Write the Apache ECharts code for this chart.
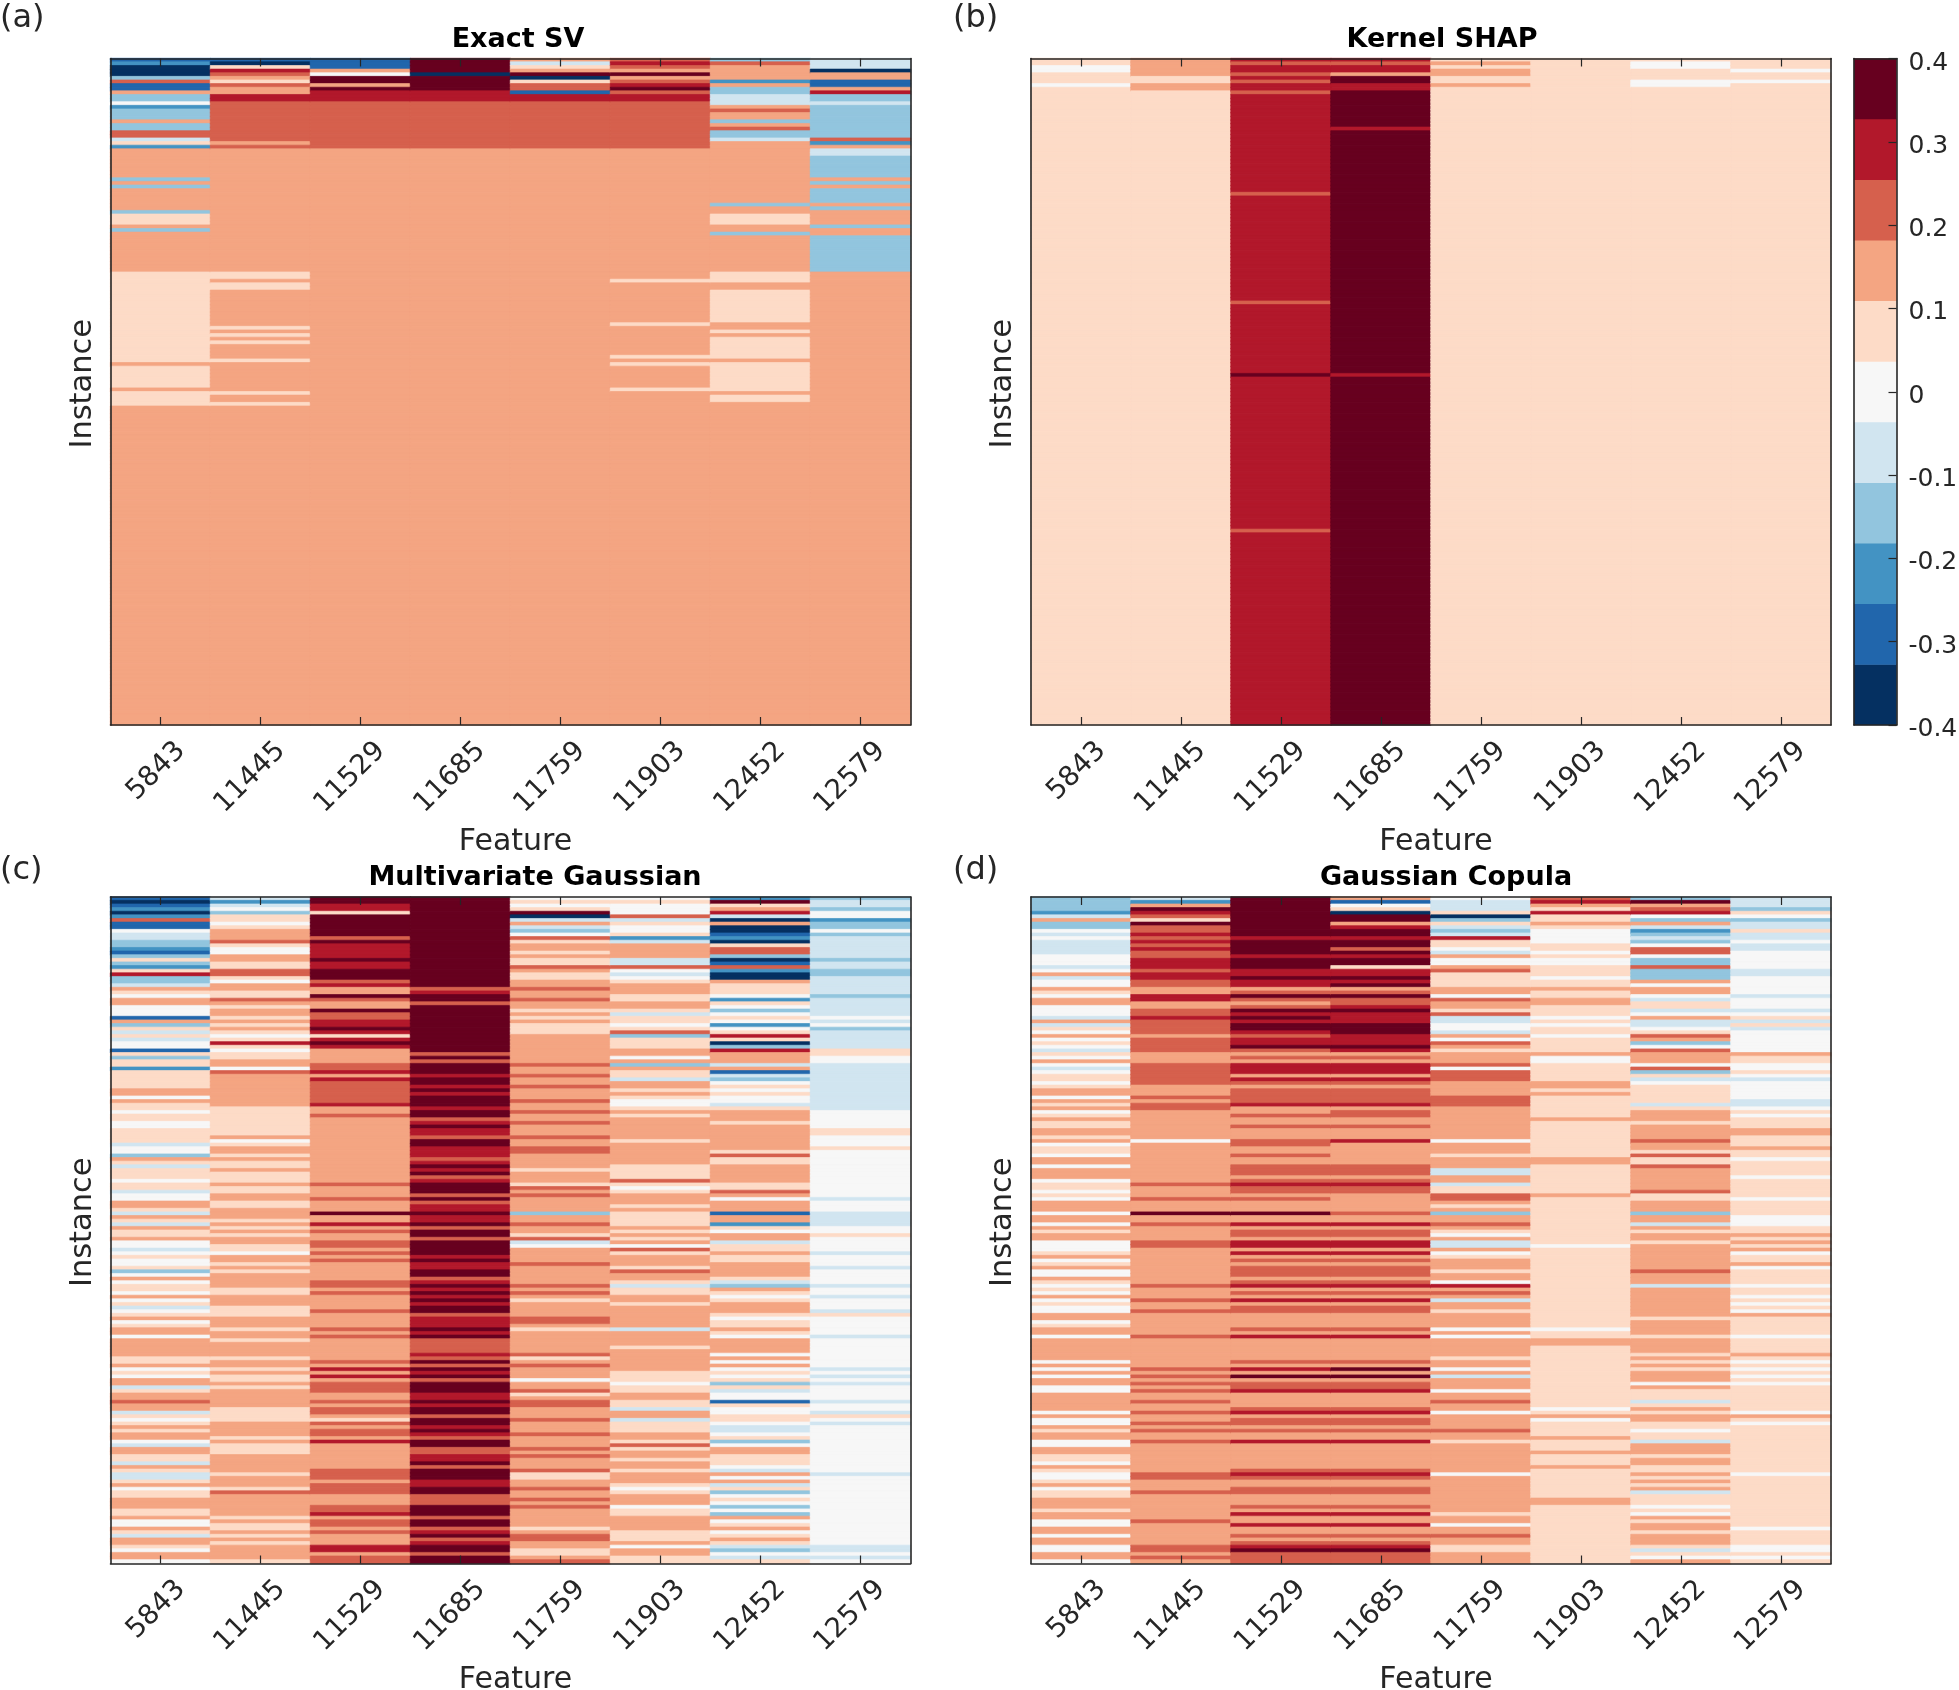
<!DOCTYPE html>
<html>
<head>
<meta charset="utf-8">
<style>html,body{margin:0;padding:0;background:#fff}#c{width:1959px;height:1690px}</style>
<script src="https://cdn.jsdelivr.net/npm/echarts@6/dist/echarts.min.js"></script>
</head>
<body>
<div id="c"></div>
<script>
// Value of each of the 11 colour bands (0 navy ... 5 white ... 10 dark red)
const levelValues = [-0.36,-0.29,-0.22,-0.145,-0.07,0,0.07,0.145,0.22,0.29,0.36];
const bandColors = ['#053061','#2166ac','#4393c3','#92c5de','#d1e5f0','#f7f7f7','#fddbc7','#f4a582','#d6604d','#b2182b','#67001f'];
const features = ['5843','11445','11529','11685','11759','11903','12452','12579'];
const colorbarTicks = [-0.4,-0.3,-0.2,-0.1,0,0.1,0.2,0.3,0.4];
const rowCount = 184;
// Every column below: flat (band, rows) pairs read from top to bottom; the last band runs to the bottom.

// (a) Exact SV
const sv5843 = [1,1,2,1,0,3,3,1,8,1,1,2,7,1,3,2,5,1,2,1,3,3,7,1,3,2,8,2,4,1,6,1,2,1,7,8,3,1,7,1,3,1,7,6,3,1,6,3,7,1,3,1,7,11,6,25,7,1,6,6,7,1,6,4,7,1];
const sv11445 = [1,1,0,1,6,1,9,1,8,1,7,1,6,1,8,1,7,2,9,2,8,11,7,1,8,1,7,34,6,2,7,1,6,2,7,10,6,1,7,1,6,1,7,1,6,1,7,4,6,1,7,8,6,1,7,2,6,1,7,1];
const sv11529 = [1,3,7,1,5,1,10,2,7,1,10,1,9,3,8,13,7,1];
const sv11685 = [10,4,0,1,10,4,9,3,8,13,7,1];
const sv11759 = [7,1,4,1,6,1,7,1,10,1,0,1,6,1,8,2,1,1,9,2,8,13,7,1];
const sv11903 = [8,1,9,1,8,1,7,1,10,1,7,1,8,1,9,1,10,1,8,1,9,2,8,13,7,36,6,1,7,11,6,1,7,8,6,1,7,1,6,1,7,6,6,1,7,1];
const sv12452 = [3,1,8,1,7,4,2,1,7,1,3,2,4,3,7,1,8,1,7,2,3,1,7,1,8,1,3,2,4,1,7,17,3,1,7,2,6,3,7,2,3,1,7,10,6,3,7,2,6,9,7,2,6,1,7,1,6,6,7,1,6,8,7,1,6,2,7,1];
const sv12579 = [4,3,0,1,7,2,1,2,7,1,9,1,3,2,4,1,3,9,8,1,2,1,7,1,4,2,3,6,7,1,3,1,7,1,3,4,7,1,3,1,7,4,3,1,7,2,3,10,7,1];

// (b) Kernel SHAP
const ks5843 = [6,2,5,2,6,3,5,1,6,1];
const ks11445 = [7,5,6,2,7,2,6,1];
const ks11529 = [9,1,8,1,9,2,8,1,9,1,8,1,9,2,8,1,9,27,8,1,9,29,8,1,9,19,10,1,9,42,8,1,9,1];
const ks11685 = [9,1,8,1,9,2,7,1,10,2,9,2,10,10,9,1,10,67,9,1,10,1];
const ks11759 = [6,1,7,1,6,1,7,2,6,2,7,1,6,1];
const ks11903 = [6,1];
const ks12452 = [6,1,5,2,6,3,5,2,6,1];
const ks12579 = [6,3,5,1,6,2,5,1,6,1];

// (c) Multivariate Gaussian
const mg5843 = [1,1,0,1,1,1,2,1,0,1,2,1,8,1,1,2,5,1,4,2,3,2,2,1,1,1,3,1,6,1,3,1,2,1,6,1,9,1,3,2,4,1,7,1,6,1,5,1,7,2,5,3,1,1,7,1,3,1,6,1,4,1,6,1,4,1,5,2,1,1,6,1,3,1,6,2,2,1,6,5,7,2,5,1,7,1,6,2,
  5,1,6,2,5,2,6,4,4,1,5,2,3,1,7,1,6,1,4,1,6,3,5,1,6,2,4,1,5,2,7,2,6,1,4,1,7,1,6,1,4,1,7,1,6,2,7,1,5,2,4,1,5,1,6,1,5,2,6,1,3,1,5,1,7,1,5,1,6,2,5,1,7,1,5,1,6,1,4,1,5,1,6,1,7,1,5,1,6,1,7,1,
  7,1,5,1,7,5,6,2,7,1,5,1,6,1,5,1,7,2,4,1,6,1,7,2,8,1,7,2,4,1,6,1,5,1,6,1,7,1,6,1,7,2,5,1,4,1,7,2,6,2,4,1,7,1,6,1,4,2,6,1,7,1,5,1,6,2,7,3,6,2,7,1,5,2,7,1,6,1,4,1,7,2,6,1,5,1,7,2,5,1];
const mg11445 = [4,1,2,1,4,1,5,1,3,1,6,2,5,1,6,1,7,3,8,1,6,1,5,2,7,2,6,2,8,2,6,1,5,1,7,2,6,2,8,1,7,1,6,1,7,2,6,1,7,1,6,1,7,1,6,1,5,1,6,1,9,1,6,1,5,1,6,2,7,2,5,1,8,1,7,9,6,1,
  6,7,7,1,5,1,6,1,7,2,6,1,7,1,6,2,7,1,6,3,7,1,6,2,7,2,6,2,7,3,6,1,7,1,6,1,7,1,6,1,7,2,6,2,5,1,7,2,6,1,7,1,6,1,7,4,6,2,7,3,6,3,7,3,6,1,
  7,2,6,1,7,4,6,1,7,2,6,1,7,1,6,2,7,1,6,1,7,5,6,4,7,4,6,1,7,1,6,3,7,5,6,1,7,3,6,1,8,1,7,6,6,1,7,1,6,2,7,1,6,1,7,1,6,1,7,4,6,1];
const mg11529 = [10,2,9,2,6,1,10,6,8,1,10,1,9,4,10,1,9,2,10,3,8,1,9,1,7,2,10,1,8,1,7,2,10,1,8,2,9,2,10,1,9,1,6,1,9,1,10,1,9,1,7,4,8,2,9,1,7,1,9,1,8,6,9,1,7,1,
  7,1,8,1,7,18,8,1,7,3,8,1,7,3,10,1,7,2,9,1,7,1,8,1,7,2,8,2,7,1,8,1,7,1,8,1,7,5,8,2,7,1,8,1,7,4,8,1,7,4,8,1,
  7,1,8,1,7,6,8,1,7,1,9,1,7,1,9,1,7,1,8,3,7,2,8,1,7,1,8,2,7,1,6,1,8,1,7,1,8,2,7,1,9,1,7,7,8,3,7,1,8,3,7,3,8,2,9,1,7,1,8,2,7,1,8,1,7,3,9,2,7,1,8,2];
const mg11685 = [10,25,8,1,9,1,10,2,8,1,10,13,8,1,10,1,8,1,10,3,9,1,10,2,9,1,10,1,9,1,10,3,9,1,
  10,2,8,1,9,1,10,1,9,2,8,1,10,2,9,3,8,1,9,1,10,1,9,1,10,1,8,1,9,1,10,3,8,1,10,1,8,1,9,2,10,1,9,2,10,1,8,1,10,2,8,1,10,4,9,1,10,1,9,2,10,2,8,1,9,1,10,1,9,1,10,1,9,1,10,1,9,1,10,2,8,1,9,3,10,1,
  9,1,10,1,8,4,9,1,8,1,10,1,8,1,10,1,9,1,10,1,8,1,10,3,9,2,10,1,9,1,10,2,8,1,10,2,9,1,10,1,9,1,8,1,10,2,8,2,9,2,10,1,8,1,10,3,9,2,10,2,8,3,10,3,8,1,10,2,8,1,9,1,10,1,8,1,9,1,10,2,8,1,10,2];
const mg11759 = [5,1,6,1,5,1,6,1,10,1,0,1,4,1,7,1,4,1,3,1,5,1,8,1,6,1,7,2,6,1,7,1,6,2,8,1,7,1,6,2,7,2,8,1,7,2,8,1,7,2,6,1,7,1,6,1,7,1,6,3,7,8,8,1,7,2,8,1,7,2,8,1,7,3,8,1,7,2,
  8,1,7,2,8,1,7,3,8,1,7,2,8,2,7,4,6,1,7,3,6,1,8,1,7,1,8,1,7,4,3,1,7,2,8,1,7,2,6,1,8,1,4,1,5,1,7,4,8,1,7,5,8,1,7,1,8,1,7,1,6,1,7,4,8,2,7,1,6,1,
  7,6,8,1,6,1,7,1,8,1,7,3,5,1,7,2,8,1,6,1,7,1,8,2,7,3,8,1,7,3,8,1,7,3,8,1,7,1,8,1,7,3,8,1,6,2,7,2,8,1,7,2,8,1,7,1,8,1,7,5,6,1,7,1,8,2,7,2,6,2,7,1,8,1];
const mg11903 = [5,1,6,1,5,3,8,1,4,1,6,1,5,2,6,1,2,1,4,1,7,4,4,2,8,1,5,1,4,1,5,1,6,1,7,3,6,2,7,2,6,1,4,1,6,2,5,1,6,1,8,1,3,1,6,3,7,2,5,1,7,1,3,1,7,1,6,2,4,1,7,2,6,1,7,1,6,1,5,2,6,1,
  7,1,6,1,7,6,6,1,7,6,6,2,6,2,8,1,6,1,5,1,6,1,7,3,6,1,7,1,6,4,7,1,6,1,7,1,6,1,7,1,5,1,8,1,6,1,7,3,6,1,8,1,7,2,6,1,4,1,6,2,7,2,6,1,7,6,4,1,
  7,4,6,1,7,6,6,3,5,1,6,2,7,2,6,2,4,1,7,2,4,1,6,3,7,2,6,1,8,1,6,1,7,2,6,1,7,2,6,1,7,3,6,1,5,1,6,1,7,3,5,1,6,2,7,4,6,3,7,1,5,1,7,2,6,2];
const mg12452 = [2,1,10,1,6,1,7,1,9,1,4,1,0,1,7,1,0,2,1,1,2,1,0,1,6,1,8,2,3,1,0,1,1,1,8,1,2,1,0,2,7,1,6,3,5,1,2,1,6,1,5,1,3,1,5,1,6,1,5,1,2,1,5,1,6,1,9,1,6,1,0,1,3,1,9,1,7,3,4,1,7,1,1,1,4,1,3,1,5,1,6,1,5,1,6,1,5,2,4,1,6,1,
  7,3,6,1,7,7,6,1,8,1,6,2,7,5,6,2,8,1,7,1,5,1,7,3,1,1,7,2,2,1,6,1,5,1,7,2,4,1,6,2,7,1,6,2,7,4,6,1,4,1,3,1,7,1,6,1,5,1,6,1,7,3,6,1,5,1,6,2,7,1,
  6,1,5,1,7,4,5,1,7,1,5,1,7,1,5,1,6,1,5,1,6,1,3,1,6,1,4,1,5,2,1,1,6,1,5,2,6,2,5,1,4,2,5,1,6,1,3,1,5,1,7,2,6,3,5,1,4,1,7,1,5,1,7,1,4,1,6,1,3,1,5,1,6,1,5,1,3,1,5,1,3,1,7,1,5,1,6,1,7,1,5,1,6,1,7,1,6,1,4,1,3,1,5,1,4,1,6,1];
const mg12579 = [3,1,4,2,3,1,5,2,2,1,3,2,5,1,3,1,4,6,3,1,4,2,3,2,4,5,3,1,4,5,5,1,4,1,5,1,3,1,4,5,6,2,5,2,4,13,
  5,5,6,2,5,3,6,1,5,13,4,1,5,3,4,4,5,2,6,1,5,4,4,1,5,3,4,1,5,4,4,1,5,2,4,1,5,3,4,1,6,1,
  5,5,4,1,5,8,4,1,5,1,4,1,5,1,4,1,5,4,4,1,5,2,4,1,6,1,5,1,4,1,5,13,4,1,5,19,4,2,5,1,4,1,5,1];

// (d) Gaussian Copula
const gc5843 = [3,4,2,1,4,1,7,1,3,2,5,1,4,1,5,1,4,4,5,3,4,1,5,1,7,1,4,1,5,2,7,1,6,1,5,1,7,2,5,3,4,1,7,1,4,1,6,1,5,1,7,1,5,1,6,1,5,1,4,1,6,1,5,1,7,1,5,1,4,1,5,1,6,2,5,1,6,1,7,2,5,1,7,1,6,1,7,1,
  5,1,6,1,7,1,6,2,7,2,6,1,7,1,5,1,6,2,5,1,7,2,5,1,7,3,5,1,6,2,5,1,6,1,5,1,7,3,5,1,7,2,5,1,7,1,6,1,7,2,5,3,6,1,7,1,5,1,6,1,7,1,5,2,7,1,6,1,5,1,6,1,5,1,7,1,5,1,6,1,5,2,7,2,5,1,6,1,7,1,
  7,1,5,1,7,6,5,1,7,1,5,1,7,1,5,1,7,2,5,2,7,5,5,1,7,1,5,2,7,1,6,1,7,2,5,2,7,2,6,2,5,1,7,1,6,1,5,2,6,1,7,1,5,1,6,2,7,3,6,1,7,2,5,2,7,2,5,1,7,2,5,2,7,2,5,1];
const gc11445 = [4,1,2,1,7,1,10,1,9,1,8,1,6,1,10,1,8,2,9,1,8,1,9,1,8,1,9,1,8,2,9,3,8,1,9,2,8,2,7,2,9,2,7,2,8,2,9,1,8,4,7,1,8,4,7,3,8,6,7,3,8,1,7,1,8,2,
  7,8,5,1,7,11,8,1,7,3,8,1,7,3,10,1,7,2,8,1,7,4,8,2,7,10,8,1,7,3,8,1,7,2,8,1,7,5,
  7,1,8,1,7,8,8,1,7,1,8,1,7,1,8,1,7,1,8,1,7,2,8,1,7,2,8,1,7,2,8,1,7,1,8,1,7,2,8,1,7,8,8,2,7,3,8,1,7,7,8,1,7,6,8,2,7,1,8,1,7,1];
const gc11529 = [10,11,9,1,10,4,9,1,10,3,9,2,10,1,9,2,7,1,8,1,10,1,8,1,7,1,8,1,10,1,9,1,10,1,9,1,10,2,9,1,8,1,9,2,10,1,8,1,7,1,8,1,7,1,9,3,7,1,9,1,8,1,7,1,8,4,9,1,7,1,
  7,1,8,1,7,2,8,1,7,3,8,2,7,2,8,1,7,2,8,3,7,1,8,1,9,1,8,2,7,1,8,1,7,3,10,1,7,2,9,1,7,1,8,2,7,1,9,2,7,1,9,1,7,1,8,1,7,1,8,3,7,1,8,1,9,1,7,1,8,1,7,1,9,1,7,1,8,2,7,4,8,1,
  7,1,9,1,7,6,8,1,7,1,9,1,7,1,10,1,7,1,8,2,9,1,7,4,8,1,9,1,7,1,8,2,7,1,8,1,7,2,9,1,7,7,8,1,9,1,8,1,7,2,8,2,7,3,8,1,7,1,9,1,7,2,9,1,7,2,8,1,7,1,8,1,9,1,10,1,8,3];
const gc11685 = [7,1,1,1,5,1,6,1,0,1,10,2,7,1,9,1,10,2,9,1,10,2,8,1,10,1,9,1,10,2,6,1,9,2,10,1,9,1,10,1,7,1,8,1,10,1,8,2,9,1,10,1,9,3,10,3,9,3,10,1,9,1,7,1,8,1,7,1,9,3,7,1,9,1,8,1,7,1,8,4,9,1,7,1,
  8,2,7,2,8,1,7,3,9,1,7,6,8,3,7,1,8,1,9,1,8,2,7,5,8,1,7,2,9,1,7,1,8,2,7,1,9,2,7,1,9,1,7,1,8,1,7,1,8,3,7,1,8,1,9,1,7,1,8,1,7,1,9,1,7,1,8,2,7,4,8,1,
  7,1,9,1,7,6,8,1,7,1,10,1,7,1,10,1,7,1,8,2,9,1,7,4,8,1,9,1,7,1,8,2,7,1,8,1,7,2,9,1,7,7,8,1,9,1,8,1,7,2,8,2,7,3,8,1,7,1,9,1,7,2,9,1,7,2,8,1,7,1,8,1,9,1,10,1,8,3];
const gc11759 = [5,1,4,3,6,1,0,1,3,1,6,1,4,1,3,1,4,1,9,1,6,2,5,1,4,1,7,1,5,2,7,1,8,1,6,4,7,2,5,1,8,1,7,2,6,1,8,1,4,2,5,2,4,1,7,1,5,1,8,1,7,1,6,1,7,3,8,1,5,1,8,3,7,4,8,3,7,1,
  7,8,5,1,7,3,6,1,7,3,4,2,7,2,4,1,6,2,8,2,7,1,6,1,7,1,3,1,7,2,8,1,7,1,6,1,5,1,7,1,4,2,7,1,5,1,6,1,7,3,6,1,7,2,5,1,9,1,7,1,8,1,7,1,4,1,7,2,6,1,7,4,5,1,
  7,1,5,1,7,5,6,1,7,2,5,1,7,1,4,1,7,3,5,1,7,2,8,1,7,2,5,1,7,4,8,1,7,2,6,1,7,8,5,1,7,10,6,1,7,2,5,1,7,2,8,1,7,2,6,2,7,3];
const gc11903 = [8,1,9,1,7,1,6,1,9,1,6,2,7,1,6,1,5,4,6,2,5,1,6,1,5,2,6,3,5,1,6,2,7,1,6,2,7,2,6,3,5,1,6,1,5,1,6,2,5,1,6,4,7,1,5,2,6,5,7,2,6,1,7,1,6,4,
  6,2,7,1,6,10,7,2,6,8,7,1,6,13,5,1,6,22,5,1,
  6,2,7,2,6,17,5,1,6,1,7,1,5,1,6,4,7,1,6,3,7,1,6,3,7,1,6,8,7,2,6,16];
const gc12452 = [3,1,10,1,7,1,8,1,9,1,5,1,3,1,7,1,4,1,2,1,3,1,4,1,3,1,5,1,8,2,5,1,3,2,8,1,3,3,7,1,5,1,7,2,5,1,4,1,6,2,4,1,5,1,7,1,4,2,5,1,6,1,8,1,7,1,3,1,5,1,8,1,7,3,5,1,8,1,3,1,6,1,4,1,5,1,6,5,4,1,6,1,
  7,3,6,1,7,4,8,1,7,2,6,1,8,1,6,2,8,1,7,6,8,1,6,2,7,3,3,1,7,2,4,1,7,1,6,1,7,2,6,1,7,7,8,1,7,3,4,1,7,8,6,1,7,3,
  7,1,6,1,7,4,6,1,7,1,6,1,7,1,6,1,7,3,5,1,7,1,6,3,4,1,6,1,7,1,6,1,7,2,6,2,5,1,6,2,4,1,7,3,6,1,7,2,6,2,7,1,6,1,7,1,6,1,7,1,4,1,6,3,5,1,6,1,5,1,7,1,6,1,7,2,6,1,7,3,6,1,4,1,6,1,5,1,7,1];
const gc12579 = [4,3,3,1,6,1,5,1,3,1,4,2,6,1,4,2,5,1,4,2,5,5,4,2,5,5,4,1,5,3,4,1,5,1,6,1,4,1,6,1,4,1,5,6,7,1,6,2,5,2,6,1,5,1,4,1,5,5,4,2,5,1,
  6,1,5,1,6,3,7,2,6,3,7,1,6,2,5,1,6,4,5,1,6,5,5,1,6,4,5,3,6,2,7,1,6,1,7,1,6,1,7,1,5,1,6,2,7,1,5,1,6,4,5,1,6,2,5,1,6,1,5,1,6,1,5,1,7,1,6,4,
  6,1,5,1,6,4,7,1,6,1,5,1,6,1,5,1,6,1,5,1,6,1,5,1,6,7,5,1,7,1,6,1,5,1,6,13,5,1,6,14,5,1,6,4,5,2,6,1,5,1,6,1];

const panels = [
  {title:'Exact SV', tag:'(a)', cols:[sv5843,sv11445,sv11529,sv11685,sv11759,sv11903,sv12452,sv12579], left:110.5, top:58.5, cx:518, tagX:0, tagY:19},
  {title:'Kernel SHAP', tag:'(b)', cols:[ks5843,ks11445,ks11529,ks11685,ks11759,ks11903,ks12452,ks12579], left:1031, top:58.5, cx:1442, tagX:953, tagY:19},
  {title:'Multivariate Gaussian', tag:'(c)', cols:[mg5843,mg11445,mg11529,mg11685,mg11759,mg11903,mg12452,mg12579], left:110.5, top:897, cx:535, tagX:0, tagY:871},
  {title:'Gaussian Copula', tag:'(d)', cols:[gc5843,gc11445,gc11529,gc11685,gc11759,gc11903,gc12452,gc12579], left:1031, top:897, cx:1446, tagX:953, tagY:871}
];
const FONT = '"DejaVu Sans", sans-serif';
const INK = '#262626';
const rows = Array.from({length:rowCount}, (_, i) => String(i));

function expand(runs){
  const out = [];
  for (let i = 0; i < runs.length; i += 2) for (let k = 0; k < runs[i+1]; k++) out.push(runs[i]);
  while (out.length < rowCount) out.push(runs[runs.length-2]);
  return out.slice(0, rowCount);
}
const line = {show:true, onZero:false, lineStyle:{color:INK, width:1.6}};
const tick = {show:true, inside:true, length:8, alignWithLabel:true, lineStyle:{color:INK, width:1.2}};

const grid = [], xAxis = [], yAxis = [], series = [], graphic = [];
panels.forEach((p, n) => {
  grid.push({left:p.left, top:p.top, width:800, height:666.5, outerBoundsMode:'none'});
  const a = n*2;
  xAxis.push({type:'category', gridIndex:n, position:'bottom', data:features, z:5, axisLine:line, axisTick:tick,
    axisLabel:{interval:0, rotate:45, align:'right', verticalAlign:'middle', margin:42, padding:[0,-29,0,0], fontFamily:FONT, fontSize:27.5, color:INK, hideOverlap:false},
    name:'Feature', nameLocation:'middle', nameGap:102, nameTextStyle:{fontFamily:FONT, fontSize:30, color:INK, padding:[0,0,0,10]}});
  xAxis.push({type:'category', gridIndex:n, position:'top', data:features, z:5, axisLine:line, axisTick:tick, axisLabel:{show:false}});
  yAxis.push({type:'category', gridIndex:n, position:'left', inverse:true, data:rows, z:5, axisLine:line, axisTick:{show:false}, axisLabel:{show:false},
    name:'Instance', nameLocation:'middle', nameGap:12, nameTextStyle:{fontFamily:FONT, fontSize:30.5, color:INK, padding:[0,0,0,16]}});
  yAxis.push({type:'category', gridIndex:n, position:'right', inverse:true, data:rows, z:5, axisLine:line, axisTick:{show:false}, axisLabel:{show:false}});
  const data = [];
  p.cols.forEach((runs, c) => expand(runs).forEach((lvl, r) => data.push({value:[c, r, levelValues[lvl]], itemStyle:{borderColor:bandColors[lvl], borderWidth:0.7}})));
  series.push({type:'heatmap', xAxisIndex:a, yAxisIndex:a, data, progressive:0, animation:false, emphasis:{disabled:true}});
  graphic.push({type:'text', x:p.cx, y:p.top-19, style:{text:p.title, font:'bold 27px '+FONT, fill:'#000', textAlign:'center', textVerticalAlign:'middle'}});
  graphic.push({type:'text', x:p.tagX, y:p.tagY, style:{text:p.tag, font:'32px '+FONT, fill:INK, textAlign:'left', textVerticalAlign:'middle'}});
});
// colour bar
grid.push({left:1854, top:58.5, width:42.5, height:666.5, outerBoundsMode:'none'});
xAxis.push({type:'category', gridIndex:4, position:'bottom', data:[''], z:5, axisLine:line, axisTick:{show:false}, axisLabel:{show:false}});
xAxis.push({type:'category', gridIndex:4, position:'top', data:[''], z:5, axisLine:line, axisTick:{show:false}, axisLabel:{show:false}});
yAxis.push({type:'category', gridIndex:4, position:'left', data:levelValues.map(String), z:5, axisLine:line, axisTick:{show:false}, axisLabel:{show:false}});
yAxis.push({type:'value', gridIndex:4, position:'right', min:colorbarTicks[0], max:colorbarTicks[colorbarTicks.length-1], interval:0.1, z:5, splitLine:{show:false}, axisLine:line,
  axisTick:{show:true, inside:true, length:8, lineStyle:{color:INK, width:1.2}},
  axisLabel:{margin:12, verticalAlign:'top', padding:[-8,0,0,0], fontFamily:FONT, fontSize:25, color:INK, showMinLabel:true, showMaxLabel:true,
    formatter:v => Math.abs(v) < 1e-9 ? '0' : v.toFixed(1)}});
series.push({type:'heatmap', xAxisIndex:8, yAxisIndex:8, data:levelValues.map((v,i)=>[0,i,v]), animation:false, emphasis:{disabled:true}});

const visualMap = {type:'piecewise', show:false, dimension:2, seriesIndex:[0,1,2,3,4],
  pieces: bandColors.map((color,i)=>({min:-0.4+i*0.8/11, max:-0.4+(i+1)*0.8/11, color}))};

const chart = echarts.init(document.getElementById('c'), null, {renderer:'canvas'});
chart.setOption({animation:false, backgroundColor:'#fff', grid, xAxis, yAxis, visualMap, series, graphic});
</script>
</body>
</html>
